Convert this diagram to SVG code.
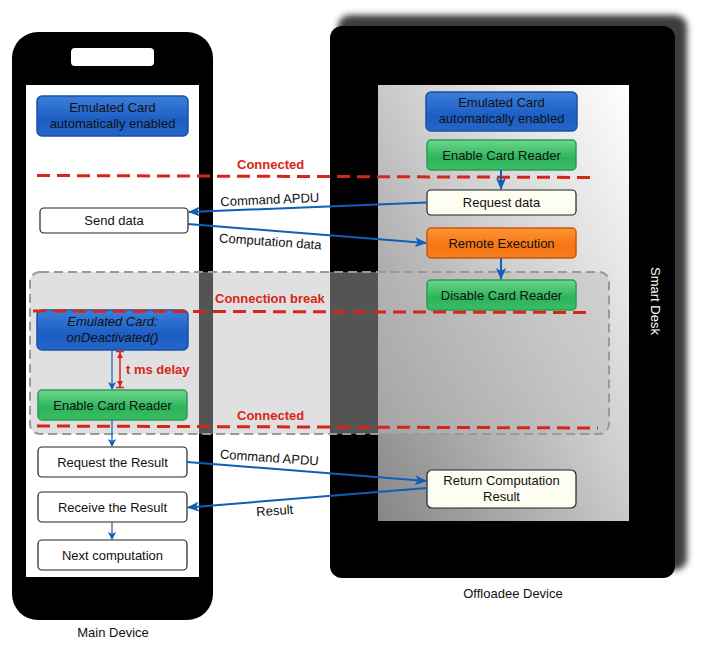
<svg xmlns="http://www.w3.org/2000/svg" width="706" height="650" viewBox="0 0 706 650">
<defs>
<linearGradient id="gBlue" x1="0" y1="0" x2="0" y2="1"><stop offset="0" stop-color="#3b7fdc"/><stop offset="0.6" stop-color="#1d5ec4"/><stop offset="1" stop-color="#2466c8"/></linearGradient>
<linearGradient id="gGreen" x1="0" y1="0" x2="0" y2="1"><stop offset="0" stop-color="#6fd68e"/><stop offset="0.6" stop-color="#2bb45a"/><stop offset="1" stop-color="#3cbc66"/></linearGradient>
<linearGradient id="gOrange" x1="0" y1="0" x2="0" y2="1"><stop offset="0" stop-color="#ff9535"/><stop offset="0.6" stop-color="#f57412"/><stop offset="1" stop-color="#f77d1c"/></linearGradient>
<linearGradient id="gScreen" x1="0" y1="1" x2="1" y2="0"><stop offset="0" stop-color="#868686"/><stop offset="0.55" stop-color="#cfcfcf"/><stop offset="1" stop-color="#ffffff"/></linearGradient>
<filter id="blur" x="-10%" y="-10%" width="120%" height="120%"><feGaussianBlur stdDeviation="3"/></filter>
<marker id="arr" markerWidth="12" markerHeight="10" refX="11" refY="5" orient="auto" markerUnits="userSpaceOnUse"><path d="M0,0 L12,5 L0,10 L3,5 z" fill="#0f5fb8"/></marker>
<marker id="arrS" markerWidth="8" markerHeight="8" refX="7" refY="4" orient="auto" markerUnits="userSpaceOnUse"><path d="M0,0 L8,4 L0,8 L2,4 z" fill="#0f5fb8"/></marker>
<style>
.t{font-family:"Liberation Sans",Arial,sans-serif;font-size:13px;fill:#111;text-anchor:middle}
.lbl{font-family:"Liberation Sans",Arial,sans-serif;font-size:13px;fill:#111;text-anchor:middle}
.red{font-family:"Liberation Sans",Arial,sans-serif;font-size:13px;font-weight:bold;fill:#d6261a}
.blue{fill:url(#gBlue);stroke:#1b50a5;stroke-width:1.5}
.green{fill:url(#gGreen);stroke:#2a9c58;stroke-width:1.5}
.orange{fill:url(#gOrange);stroke:#c65a0c;stroke-width:1.5}
.white{fill:#ffffff;stroke:#222;stroke-width:1.2}
.cream{fill:#fdfdf2;stroke:#222;stroke-width:1.2}
.conn{stroke:#0f5fb8;stroke-width:2;fill:none}
.thin{stroke:#0f5fb8;stroke-width:1.2;fill:none}
.rdash{stroke:#d6261a;stroke-width:3;stroke-dasharray:13 7;fill:none}
</style>
</defs>
<rect width="706" height="650" fill="#ffffff"/>

<g id="main-device">
<rect x="12" y="32" width="201" height="588" rx="26" fill="#000"/>
<rect x="71" y="48" width="83" height="18" rx="4" fill="#fff"/>
<rect x="26" y="85" width="173" height="492" fill="#fff"/>
<text class="lbl" x="113" y="637">Main Device</text>
</g>

<g id="offloadee-device">
<rect x="338" y="15" width="349" height="555" rx="12" fill="#3e3e3e" filter="url(#blur)"/>
<rect x="330" y="26" width="345" height="552" rx="12" fill="#000"/>
<rect x="378" y="85" width="251" height="436" fill="url(#gScreen)"/>
<text class="lbl" style="fill:#fff" transform="translate(651,301) rotate(90)">Smart Desk</text>
<text class="lbl" x="513" y="598">Offloadee Device</text>
</g>

<g id="break-zone">
<rect x="30" y="272" width="579" height="162" rx="10" fill="#bbbbbb" fill-opacity="0.45" stroke="#999" stroke-width="2" stroke-dasharray="9 5"/>
</g>

<g id="n-emu1"><rect class="blue" x="37" y="96" width="151" height="40" rx="5"/><text class="t" x="112.5" y="112">Emulated Card</text><text class="t" x="112.5" y="127.5">automatically enabled</text></g>
<g id="n-send"><rect class="white" x="40" y="208" width="148" height="25" rx="4"/><text class="t" x="114" y="225">Send data</text></g>
<g id="n-emu-deact"><rect class="blue" x="37" y="310" width="151" height="40" rx="5"/><text class="t" x="112.5" y="326" font-style="italic">Emulated Card:</text><text class="t" x="112.5" y="341.5" font-style="italic">onDeactivated()</text></g>
<g id="n-enable1"><rect class="green" x="38" y="390" width="149" height="30" rx="4"/><text class="t" x="112.5" y="409.5">Enable Card Reader</text></g>
<g id="n-reqres"><rect class="white" x="38" y="447" width="149" height="30" rx="4"/><text class="t" x="112.5" y="466.5">Request the Result</text></g>
<g id="n-recvres"><rect class="white" x="38" y="492" width="149" height="30" rx="4"/><text class="t" x="112.5" y="511.5">Receive the Result</text></g>
<g id="n-next"><rect class="white" x="38" y="540" width="149" height="30" rx="4"/><text class="t" x="112.5" y="559.5">Next computation</text></g>

<g id="n-emu2"><rect class="blue" x="426" y="92" width="151" height="39" rx="5"/><text class="t" x="501.5" y="107">Emulated Card</text><text class="t" x="501.5" y="122.5">automatically enabled</text></g>
<g id="n-enable2"><rect class="green" x="427" y="140" width="149" height="30" rx="4"/><text class="t" x="501.5" y="159.5">Enable Card Reader</text></g>
<g id="n-reqdata"><rect class="cream" x="427" y="190" width="149" height="25" rx="4"/><text class="t" x="501.5" y="206.5">Request data</text></g>
<g id="n-remote"><rect class="orange" x="427" y="228" width="149" height="30" rx="4"/><text class="t" x="501.5" y="247.5">Remote Execution</text></g>
<g id="n-disable"><rect class="green" x="427" y="280" width="149" height="30" rx="4"/><text class="t" x="501.5" y="299.5">Disable Card Reader</text></g>
<g id="n-return"><rect class="cream" x="427" y="470" width="149" height="38" rx="5"/><text class="t" x="501.5" y="485">Return Computation</text><text class="t" x="501.5" y="500.5">Result</text></g>

<g id="phases">
<path class="rdash" d="M37,175.5 L597,177.5"/>
<text class="red" x="237" y="169">Connected</text>
<path class="rdash" d="M33,311 L593,312.5"/>
<text class="red" x="215" y="303">Connection break</text>
<path class="rdash" d="M37,426 L598,428"/>
<text class="red" x="237" y="420">Connected</text>
<path d="M120,352 L120,387" stroke="#d6261a" stroke-width="1.5"/>
<path d="M116,351.5 L124,351.5 M116,387.5 L124,387.5" stroke="#d6261a" stroke-width="1.5"/>
<path d="M120,352 L117,358 L123,358 z M120,387 L117,381 L123,381 z" fill="#d6261a"/>
<text class="red" x="126" y="374">t ms delay</text>
</g>

<g id="connectors">
<path class="conn" d="M501,170 L501,189" marker-end="url(#arr)"/>
<path class="conn" d="M501,258 L501,279" marker-end="url(#arr)"/>
<path class="conn" d="M427,202.5 L189,212" marker-end="url(#arr)"/>
<path class="conn" d="M188,224 L426,243" marker-end="url(#arr)"/>
<path class="thin" d="M112,350 L112,389" marker-end="url(#arrS)"/>
<path class="thin" d="M112,420 L112,446" marker-end="url(#arrS)"/>
<path class="thin" d="M112,522 L112,539" marker-end="url(#arrS)"/>
<path class="conn" d="M187,462 L426,481" marker-end="url(#arr)"/>
<path class="conn" d="M427,488 L188,507.5" marker-end="url(#arr)"/>
<text class="lbl" transform="translate(270,204) rotate(-2.5)">Command APDU</text>
<text class="lbl" transform="translate(270,246) rotate(4)">Computation data</text>
<text class="lbl" transform="translate(269,462) rotate(4)">Command APDU</text>
<text class="lbl" transform="translate(275,515) rotate(-4)">Result</text>
</g>
</svg>
